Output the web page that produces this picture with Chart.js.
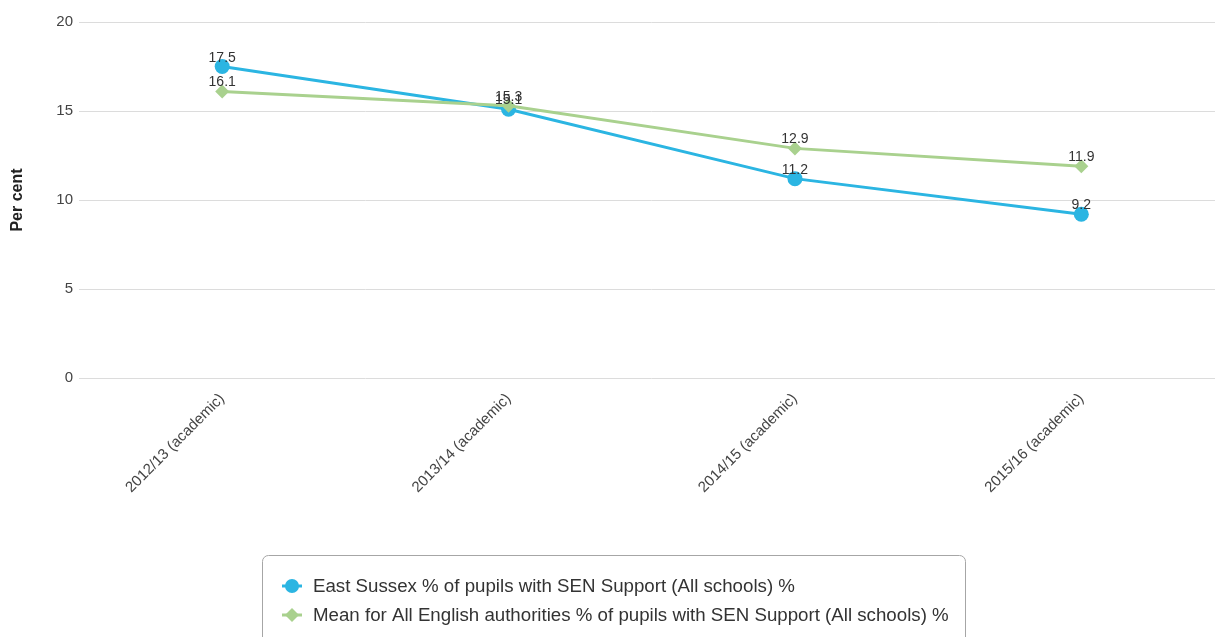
<!DOCTYPE html>
<html>
<head>
<meta charset="utf-8">
<script src="https://cdn.jsdelivr.net/npm/chart.js@4"></script>
<style>
  html, body { margin: 0; padding: 0; background: #fff; overflow: hidden; }
  #wrap { width: 1232px; height: 637px; position: relative; }
  #chart { display: block; width: 1232px; height: 637px; }
</style>
</head>
<body>
<div id="wrap"><canvas id="chart" width="1232" height="637"></canvas></div>
<script>
// Academic years shown on the x axis
const categories = ['2012/13 (academic)', '2013/14 (academic)', '2014/15 (academic)', '2015/16 (academic)'];
// % of pupils with SEN Support (All schools)
const eastSussex = [17.5, 15.1, 11.2, 9.2];
const englishMean = [16.1, 15.3, 12.9, 11.9];
const yTicks = [0, 5, 10, 15, 20];
const seriesNames = [
  'East Sussex % of pupils with SEN Support (All schools) %',
  'Mean for All English authorities % of pupils with SEN Support (All schools) %'
];

const BLUE = '#2bb5e2';
const GREEN = '#a9d18e';
const FONT = '"Liberation Sans", Arial, Helvetica, sans-serif';

// Value written just above each point
const valueLabels = {
  id: 'valueLabels',
  afterDatasetsDraw(chart) {
    const ctx = chart.ctx;
    ctx.save();
    ctx.font = '14px ' + FONT;
    ctx.fillStyle = '#333';
    ctx.textAlign = 'center';
    ctx.textBaseline = 'alphabetic';
    chart.data.datasets.forEach((ds, i) => {
      chart.getDatasetMeta(i).data.forEach((pt, j) => {
        ctx.fillText(String(ds.data[j]), pt.x, pt.y - 5);
      });
    });
    ctx.restore();
  }
};

// Framed legend below the axis: line + marker, then the series name
const boxedLegend = {
  id: 'boxedLegend',
  afterDraw(chart, args, opts) {
    const ctx = chart.ctx;
    ctx.save();
    const bx = opts.left, by = opts.top, bw = opts.width, bh = opts.height, r = 6;
    ctx.beginPath();
    ctx.roundRect(bx + 0.5, by + 0.5, bw, bh, r);
    ctx.strokeStyle = '#a6a6a6';
    ctx.lineWidth = 1;
    ctx.stroke();

    ctx.font = opts.fontSize + 'px ' + FONT;
    ctx.textBaseline = 'middle';
    ctx.textAlign = 'left';
    chart.data.datasets.forEach((ds, i) => {
      const y = opts.firstRow + i * opts.rowGap;
      const mx = opts.markerX;
      ctx.strokeStyle = ds.borderColor;
      ctx.lineWidth = 3;
      ctx.beginPath();
      ctx.moveTo(mx - 10, y);
      ctx.lineTo(mx + 10, y);
      ctx.stroke();
      ctx.fillStyle = ds.borderColor;
      ctx.beginPath();
      if (ds.pointStyle === 'rectRot') {
        const s = 7;
        ctx.moveTo(mx, y - s);
        ctx.lineTo(mx + s, y);
        ctx.lineTo(mx, y + s);
        ctx.lineTo(mx - s, y);
        ctx.closePath();
      } else {
        ctx.arc(mx, y, 7, 0, Math.PI * 2);
      }
      ctx.fill();
      ctx.fillStyle = '#333';
      ctx.fillText(ds.label, opts.textX, y + 1);
    });
    ctx.restore();
  }
};

new Chart(document.getElementById('chart'), {
  type: 'line',
  data: {
    labels: categories,
    datasets: [
      {
        label: seriesNames[0],
        data: eastSussex,
        borderColor: BLUE,
        backgroundColor: BLUE,
        borderWidth: 3,
        pointStyle: 'circle',
        pointRadius: 7.5,
        pointBorderWidth: 0,
        pointHoverRadius: 7.5,
        tension: 0,
        order: 1
      },
      {
        label: seriesNames[1],
        data: englishMean,
        borderColor: GREEN,
        backgroundColor: GREEN,
        borderWidth: 3,
        pointStyle: 'rectRot',
        pointRadius: 7,
        pointBorderWidth: 0,
        pointHoverRadius: 7,
        tension: 0,
        order: 0
      }
    ]
  },
  options: {
    responsive: false,
    animation: false,
    layout: { padding: { top: 22, left: 0, right: 0, bottom: 0 } },
    plugins: {
      legend: { display: false },
      tooltip: { enabled: false },
      boxedLegend: {
        left: 262, top: 555, width: 703, height: 110,
        markerX: 292, textX: 313, firstRow: 586, rowGap: 29, fontSize: 18.7
      }
    },
    scales: {
      x: {
        offset: true,
        grid: { display: false },
        border: { display: false },
        ticks: {
          color: '#444',
          font: { family: FONT, size: 15 },
          maxRotation: 45,
          minRotation: 45,
          padding: 4
        },
        afterFit(scale) { scale.height = 259; }
      },
      y: {
        min: 0,
        max: 20,
        afterBuildTicks(scale) { scale.ticks = yTicks.map(v => ({ value: v })); },
        grid: { color: '#dcdcdc', lineWidth: 1, drawTicks: false },
        border: { display: false },
        ticks: {
          color: '#444',
          font: { family: FONT, size: 15 },
          padding: 6
        },
        title: {
          display: true,
          text: 'Per cent',
          color: '#222',
          font: { family: FONT, size: 16, weight: 'bold' },
          padding: { top: 8, bottom: 0 }
        },
        afterFit(scale) { scale.width = 79; }
      }
    }
  },
  plugins: [valueLabels, boxedLegend]
});
</script>
</body>
</html>
